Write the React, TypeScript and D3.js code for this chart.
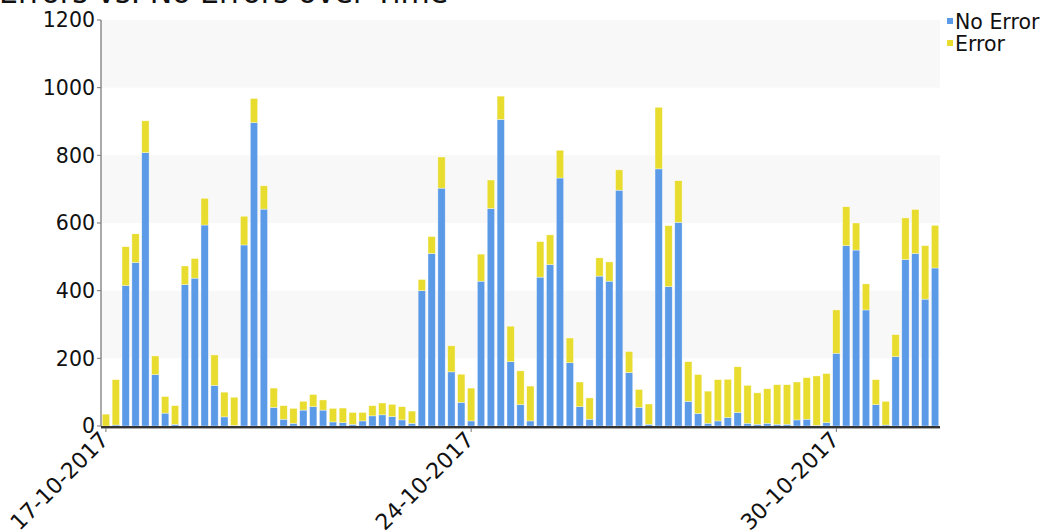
import React from "react";
import * as d3 from "d3";

// bar values (one bar per period)
const noError = [
  0, 3, 415, 483, 808, 152, 38, 5, 418, 437, 594, 120, 27, 2, 535, 897, 641, 55, 20, 8,
  47, 57, 47, 12, 10, 5, 15, 30, 33, 28, 18, 8, 400, 510, 703, 160, 70, 15, 428, 643,
  906, 190, 63, 15, 440, 477, 733, 187, 57, 20, 443, 428, 697, 158, 55, 5, 760, 412, 602, 73,
  37, 8, 15, 25, 40, 8, 5, 8, 5, 5, 18, 20, 2, 10, 215, 533, 520, 343, 63, 3,
  205, 492, 510, 375, 467,
];
const errors = [
  35, 134, 115, 85, 94, 55, 49, 55, 55, 58, 79, 90, 73, 83, 85, 71, 69, 57, 40, 44,
  26, 36, 30, 40, 43, 35, 25, 30, 35, 36, 39, 36, 33, 50, 92, 77, 83, 97, 80, 84,
  69, 105, 100, 103, 105, 88, 82, 73, 73, 63, 54, 57, 60, 62, 53, 60, 182, 180, 123, 117,
  115, 95, 122, 113, 135, 112, 93, 102, 117, 117, 112, 123, 146, 145, 128, 115, 80, 77, 74, 70,
  65, 123, 130, 158, 126,
];
const tickLabels = [
  { index: 0, label: "17-10-2017" },
  { index: 37, label: "24-10-2017" },
  { index: 74, label: "30-10-2017" },
];
const yTicks = [0, 200, 400, 600, 800, 1000, 1200];
const seriesNames = ["No Error", "Error"];
const colors = ["#5b9ae6", "#e8dc2f"];

const W = 1049;
const H = 532;
const left = 101;
const right = 940;
const top = 20;
const bottom = 426;
const font = "DejaVu Sans, Verdana, sans-serif";

export default function App() {
  const idx = noError.map((_, i) => i);
  const x = d3.scaleBand<number>().domain(idx).range([left, right]).paddingInner(0.26).paddingOuter(0.13);
  const y = d3.scaleLinear().domain([0, 1200]).range([bottom, top]);

  const rows = idx.map((i) => ({ i, noError: noError[i], error: errors[i] }));
  const stacked = d3.stack<any>().keys(["noError", "error"])(rows);

  return (
    <svg width={W} height={H} style={{ position: "absolute", left: 0, top: 0 }} fontFamily={font}>
      {/* alternating bands */}
      {yTicks.slice(0, -1).map((t, k) =>
        k % 2 === 1 ? (
          <rect key={t} x={left} y={y(t + 200)} width={right - left} height={y(t) - y(t + 200)} fill="#f8f8f8" />
        ) : null
      )}

      {/* title, cut off by the top edge like in the original */}
      <text x={-1} y={3} fontSize={30} fill="#111">Errors vs. No Errors over Time</text>

      {/* bars */}
      {stacked.map((s, si) =>
        s.map((d: any, i: number) => (
          <rect
            key={`${si}-${i}`}
            x={x(i)}
            y={y(d[1])}
            width={x.bandwidth()}
            height={Math.max(0, y(d[0]) - y(d[1]))}
            fill={colors[si]}
            stroke="rgba(255,255,255,0.6)"
            strokeWidth={0.6}
          />
        ))
      )}

      {/* y axis */}
      <line x1={left} x2={left} y1={top} y2={bottom} stroke="#555" strokeWidth={1} />
      {yTicks.map((t) => (
        <g key={t}>
          <line x1={left - 4} x2={left} y1={y(t)} y2={y(t)} stroke="#777" />
          <text x={left - 6} y={y(t)} dy="0.35em" textAnchor="end" fontSize={20.5} fill="#111">
            {t}
          </text>
        </g>
      ))}

      {/* x axis */}
      <line x1={left} x2={right} y1={bottom + 1} y2={bottom + 1} stroke="#333" strokeWidth={2} />
      <line x1={left} x2={right} y1={bottom + 2.5} y2={bottom + 2.5} stroke="#aaa" strokeWidth={1} />
      {tickLabels.map((t) => {
        const cx = (x(t.index) as number) + x.bandwidth() / 2;
        return (
          <g key={t.label}>
            <line x1={cx} x2={cx} y1={bottom + 2} y2={bottom + 6} stroke="#777" />
            <text
              transform={`translate(${cx + 4},${bottom + 15}) rotate(-45)`}
              textAnchor="end"
              fontSize={22}
              fill="#111"
            >
              {t.label}
            </text>
          </g>
        );
      })}

      {/* legend */}
      {seriesNames.map((n, k) => (
        <g key={n} transform={`translate(947,${22 + k * 22})`}>
          <rect x={0} y={-4} width={6} height={6} fill={colors[k]} />
          <text x={8} y={0} dy="0.35em" fontSize={20.5} fill="#111">
            {n}
          </text>
        </g>
      ))}
    </svg>
  );
}
